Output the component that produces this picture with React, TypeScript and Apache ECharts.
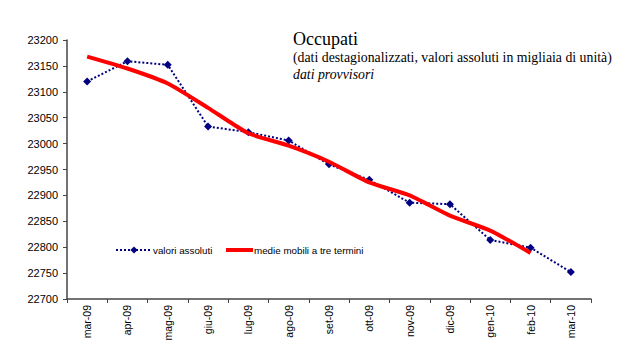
import React, { useEffect, useRef } from "react";
import * as echarts from "echarts";

const categories = ["mar-09","apr-09","mag-09","giu-09","lug-09","ago-09","set-09","ott-09","nov-09","dic-09","gen-10","feb-10","mar-10"];
const valoriAssoluti = [23120, 23159, 23152, 23033, 23022, 23006, 22960, 22930, 22886, 22883, 22814, 22799, 22752];
const medieMobili = [23168, 23145, 23116, 23069, 23020, 22996, 22965, 22925, 22900, 22861, 22832, 22789, null];
const yTicks = { min: 22700, max: 23200, interval: 50 };

export default function App() {
  const ref = useRef<HTMLDivElement>(null);
  useEffect(() => {
    const chart = echarts.init(ref.current!, null, { renderer: "svg" });
    chart.setOption({
      animation: false,
      backgroundColor: "#ffffff",
      title: [
        {
          text: "Occupati",
          left: 288, top: 25,
          textStyle: { fontFamily: "Liberation Serif", fontSize: 18, fontWeight: "normal", color: "#000" },
        },
        {
          text: "(dati destagionalizzati, valori assoluti in migliaia di unità)",
          left: 288, top: 45,
          textStyle: { fontFamily: "Liberation Serif", fontSize: 13.8, fontWeight: "normal", color: "#000" },
        },
        {
          text: "dati provvisori",
          left: 288, top: 62,
          textStyle: { fontFamily: "Liberation Serif", fontSize: 13.8, fontStyle: "italic", fontWeight: "normal", color: "#000" },
        },
      ],
      legend: [
        {
          data: ["valori assoluti"], left: 110, top: 240, itemWidth: 36, itemHeight: 9, itemGap: 2,
          textStyle: { fontFamily: "Liberation Sans", fontSize: 9.8, color: "#000", padding: [0, 0, 0, -4] },
        },
        {
          data: [{ name: "medie mobili a tre termini", icon: "rect" }], left: 221, top: 240, itemWidth: 27, itemHeight: 4,
          textStyle: { fontFamily: "Liberation Sans", fontSize: 9.8, color: "#000", padding: [0, 0, 0, -4] },
        },
      ],
      grid: { left: 67, right: 39, top: 40, bottom: 54, containLabel: false },
      xAxis: {
        type: "category",
        data: categories,
        boundaryGap: true,
        axisLine: { lineStyle: { color: "#444", width: 1.5 } },
        axisTick: { show: true, length: 4, alignWithLabel: false, lineStyle: { color: "#444" } },
        axisLabel: { rotate: 90, margin: 6, fontFamily: "Liberation Sans", fontSize: 10.5, color: "#000", interval: 0 },
      },
      yAxis: {
        type: "value",
        min: yTicks.min, max: yTicks.max, interval: yTicks.interval,
        axisLine: { show: true, lineStyle: { color: "#444", width: 1.5 } },
        axisTick: { show: true, length: 4, inside: false, lineStyle: { color: "#444" } },
        splitLine: { show: false },
        axisLabel: { margin: 9, fontFamily: "Liberation Sans", fontSize: 11, color: "#000", formatter: (v: number) => String(v) },
      },
      series: [
        {
          name: "valori assoluti",
          type: "line",
          data: valoriAssoluti,
          symbol: "diamond",
          symbolSize: 8,
          itemStyle: { color: "#000080" },
          lineStyle: { color: "#000080", width: 2, type: [2, 2] },
          z: 2,
        },
        {
          name: "medie mobili a tre termini",
          type: "line",
          data: medieMobili,
          symbol: "none",
          smooth: 0.2,
          itemStyle: { color: "#ff0000" },
          lineStyle: { color: "#ff0000", width: 4 },
          z: 3,
        },
      ],
    });
    return () => chart.dispose();
  }, []);
  return <div ref={ref} style={{ width: 630, height: 353, position: "absolute", left: 0, top: 0 }} />;
}
